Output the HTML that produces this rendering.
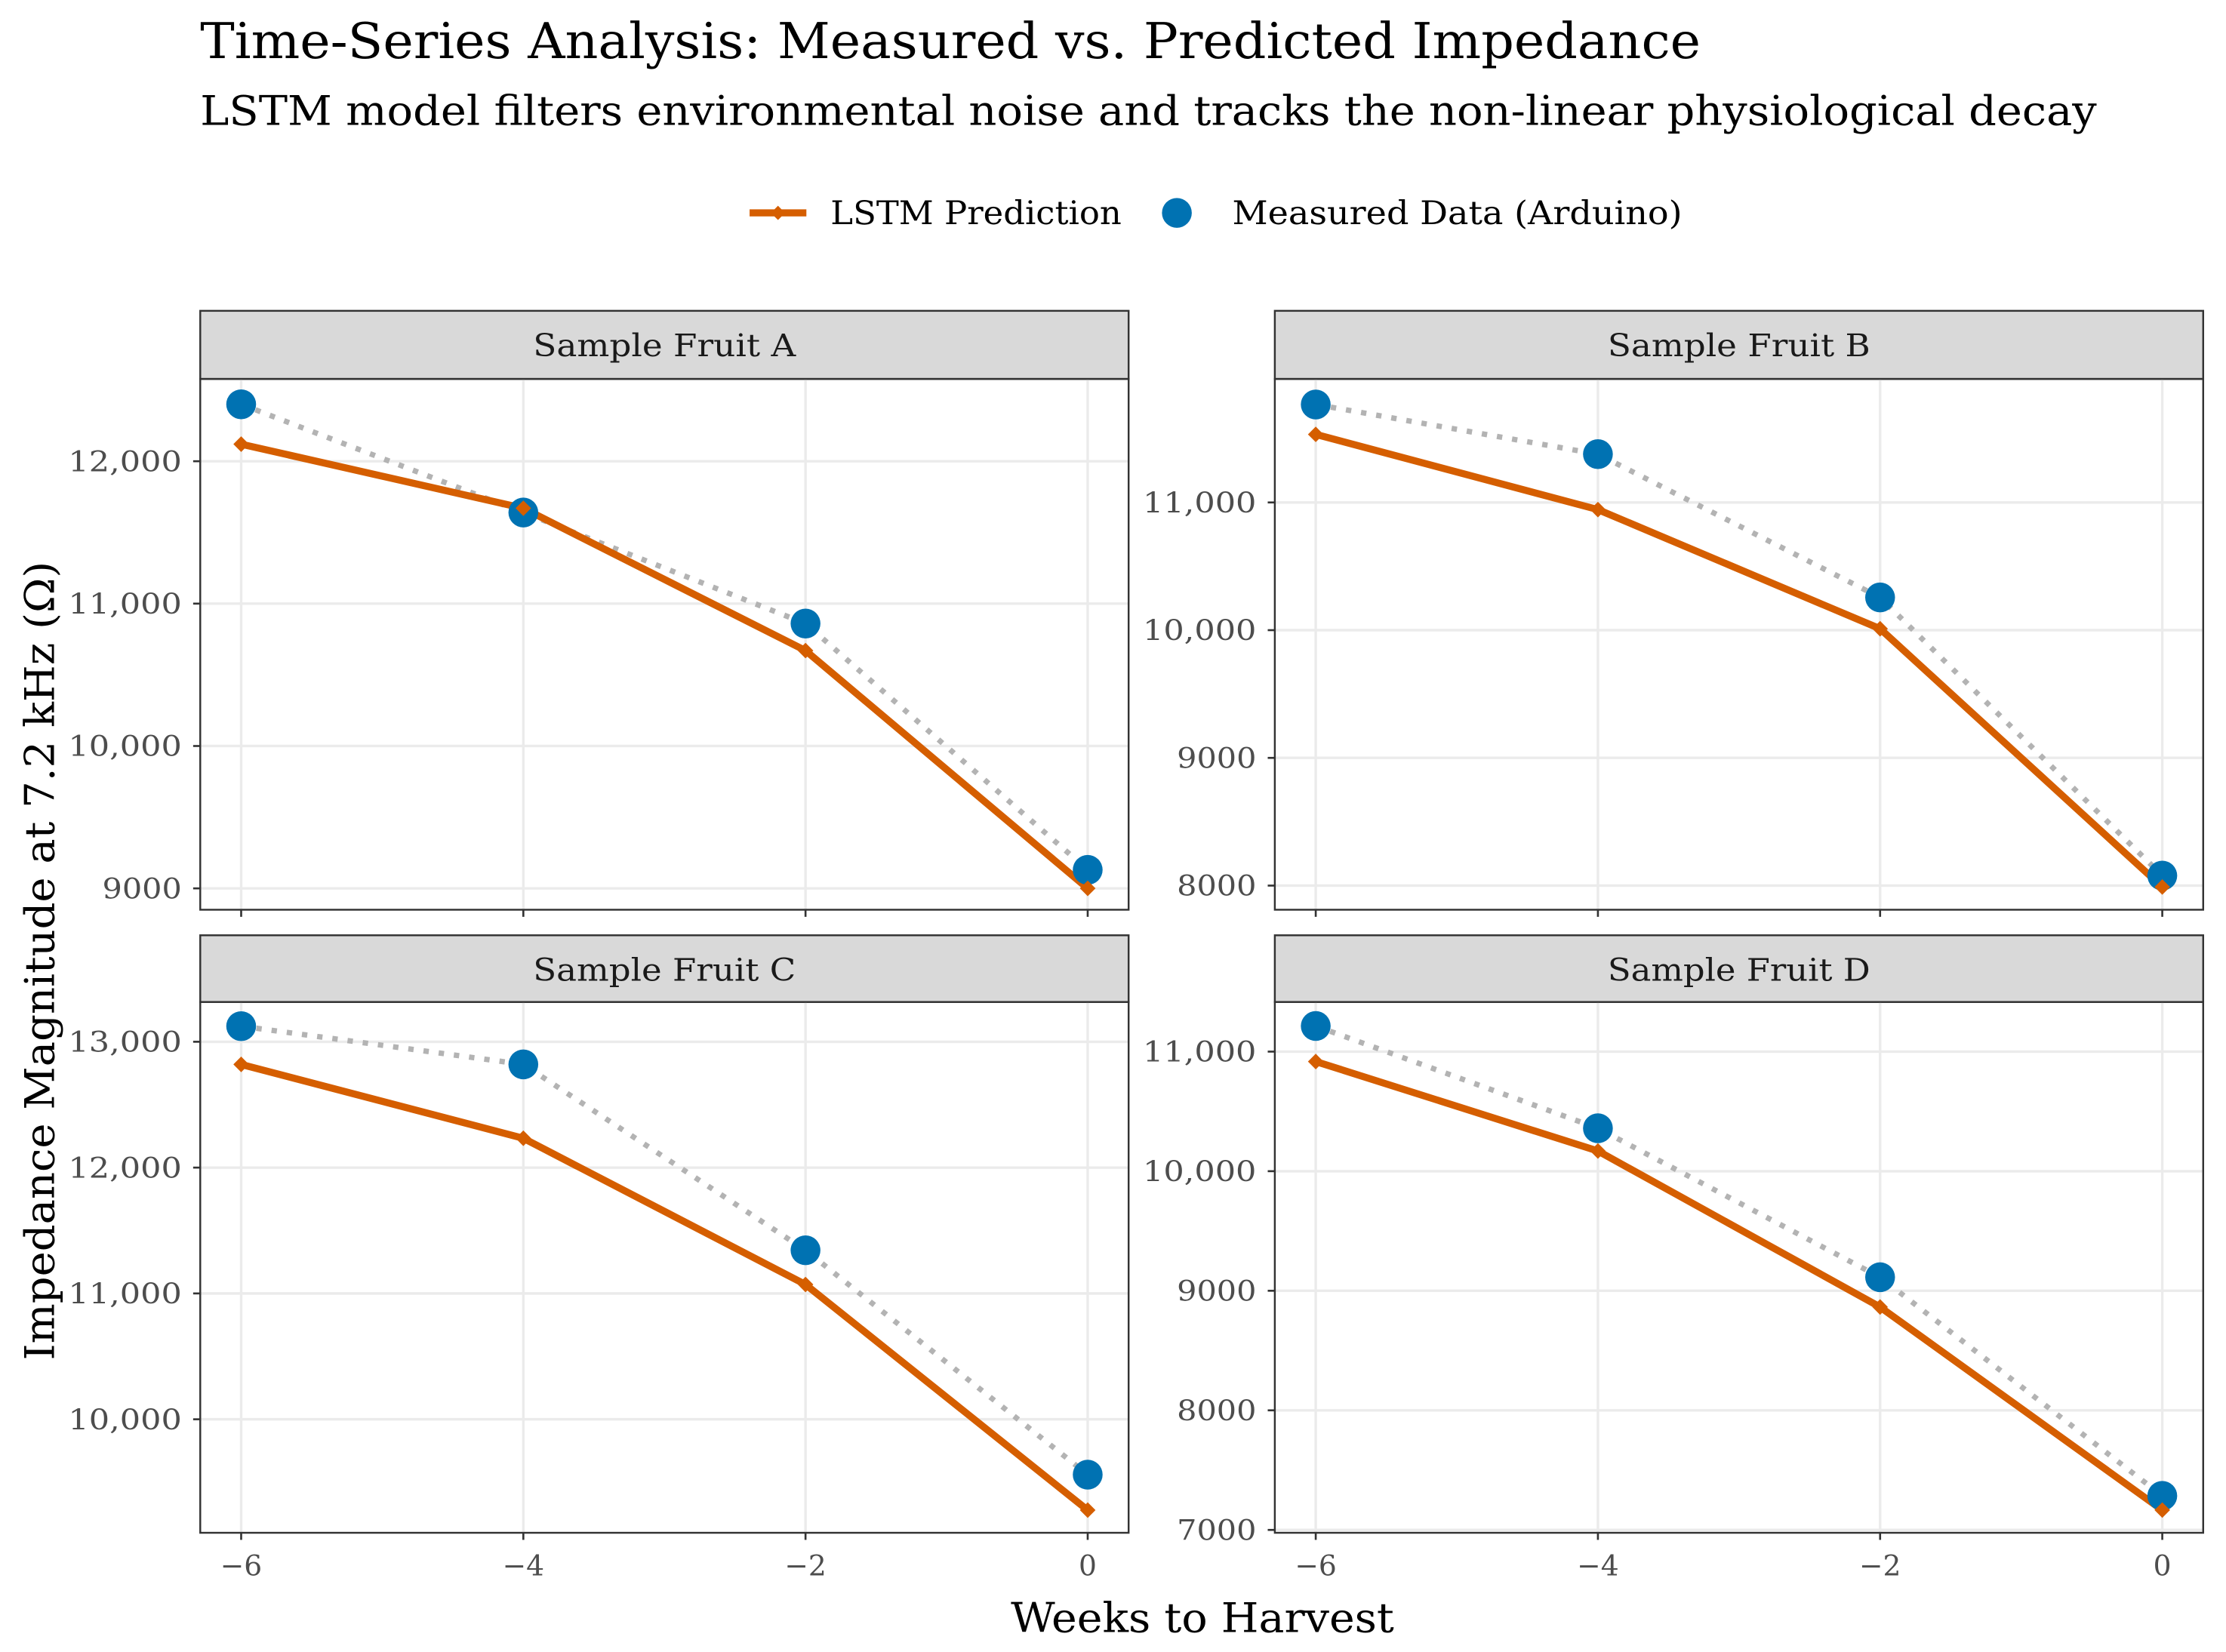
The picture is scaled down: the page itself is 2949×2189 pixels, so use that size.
<!DOCTYPE html>
<html><head><meta charset="utf-8"><style>
html,body{margin:0;padding:0;background:#fff}
svg{display:block}
text{font-family:"DejaVu Serif","Liberation Serif",serif}
</style></head><body>
<svg id="chart" width="2949" height="2189" viewBox="0 0 1568 1164" xmlns="http://www.w3.org/2000/svg">
<text x="141" y="41" font-size="35" fill="#000" textLength="1057" lengthAdjust="spacingAndGlyphs">Time-Series Analysis: Measured vs. Predicted Impedance</text>
<text x="141" y="88" font-size="29" fill="#000" textLength="1336" lengthAdjust="spacingAndGlyphs">LSTM model filters environmental noise and tracks the non-linear physiological decay</text>
<g>
<g>
<line x1="528" y1="150" x2="568" y2="150" stroke="#D55E00" stroke-width="5"/>
<path d="M548 145 L553 150 L548 155 L543 150 Z" fill="#D55E00"/>
<text x="585" y="158" font-size="23" textLength="205" lengthAdjust="spacingAndGlyphs">LSTM Prediction</text></g>
<g>
<circle cx="829" cy="150" r="10.5" fill="#0072B2"/>
<text x="868" y="158" font-size="23" textLength="317" lengthAdjust="spacingAndGlyphs">Measured Data (Arduino)</text></g>
</g>
<text transform="translate(38,677) rotate(-90)" text-anchor="middle" font-size="29" textLength="563" lengthAdjust="spacingAndGlyphs">Impedance Magnitude at 7.2 kHz (Ω)</text>
<text x="847" y="1150" text-anchor="middle" font-size="29" textLength="270" lengthAdjust="spacingAndGlyphs">Weeks to Harvest</text>
<g id="panels"></g>
</svg>
<script>
const weeks = [-6, -4, -2, 0];
const xTicks = [-6, -4, -2, 0];
const panelNames = ["Sample Fruit A", "Sample Fruit B", "Sample Fruit C", "Sample Fruit D"];
const measuredA = [12400, 11640, 10860, 9130];
const predictedA = [12120, 11670, 10670, 9000];
const measuredB = [11767, 11378, 10256, 8078];
const predictedB = [11533, 10944, 10011, 7989];
const measuredC = [13124, 12820, 11343, 9560];
const predictedC = [12820, 12233, 11071, 9278];
const measuredD = [11214, 10359, 9113, 7285];
const predictedD = [10917, 10169, 8864, 7166];
const yTicksA = [9000, 10000, 11000, 12000];
const yTicksB = [8000, 9000, 10000, 11000];
const yTicksC = [10000, 11000, 12000, 13000];
const yTicksD = [7000, 8000, 9000, 10000, 11000];
const yDomA = [8850, 12578];
const yDomB = [7811, 11967];
const yDomC = [9098, 13316];
const yDomD = [6976, 11415];

const NS = "http://www.w3.org/2000/svg";
const root = document.getElementById("panels");
function mk(tag, attrs, parent) {
  const e = document.createElementNS(NS, tag);
  for (const k in attrs) e.setAttribute(k, attrs[k]);
  parent.appendChild(e);
  return e;
}
function fmt(v) { return v >= 10000 ? v.toLocaleString("en-US") : String(v); }

const layout = [
  {x0:141, x1:795, s0:219, y0:267, y1:641, m:measuredA, p:predictedA, t:yTicksA, d:yDomA, key:"a", xl:false},
  {x0:898, x1:1552, s0:219, y0:267, y1:641, m:measuredB, p:predictedB, t:yTicksB, d:yDomB, key:"b", xl:false},
  {x0:141, x1:795, s0:659, y0:706, y1:1080, m:measuredC, p:predictedC, t:yTicksC, d:yDomC, key:"c", xl:true},
  {x0:898, x1:1552, s0:659, y0:706, y1:1080, m:measuredD, p:predictedD, t:yTicksD, d:yDomD, key:"d", xl:true}
];

layout.forEach((L, i) => {
  const g = mk("g", {}, root);
  
  
  const xs = v => L.x0 + (v + 6.29) / 6.58 * (L.x1 - L.x0);
  const ys = v => L.y1 - (v - L.d[0]) / (L.d[1] - L.d[0]) * (L.y1 - L.y0);
  const st = mk("rect", {x:L.x0, y:L.s0, width:L.x1-L.x0, height:L.y0-L.s0, fill:"#D9D9D9", stroke:"#333", "stroke-width":1.3}, g);
  
  
  const stt = mk("text", {x:(L.x0+L.x1)/2, y:L.s0+32, "text-anchor":"middle", "font-size":22, fill:"#1a1a1a", textLength:185, lengthAdjust:"spacingAndGlyphs"}, g);
  stt.textContent = panelNames[i];
  
  
  L.t.forEach(v => {
    const y = ys(v);
    const gl = mk("line", {x1:L.x0, x2:L.x1, y1:y, y2:y, stroke:"#EBEBEB", "stroke-width":1.8}, g);
    
    
    mk("line", {x1:L.x0-5, x2:L.x0, y1:y, y2:y, stroke:"#333", "stroke-width":1.4}, g);
    const s = fmt(v);
    const tl = mk("text", {x:L.x0-13, y:y+7, "text-anchor":"end", "font-size":20, fill:"#4D4D4D", textLength:s.length>4?80:56, lengthAdjust:"spacingAndGlyphs"}, g);
    tl.textContent = s;
    
    
  });
  xTicks.forEach(v => {
    const x = xs(v);
    const gl = mk("line", {x1:x, x2:x, y1:L.y0, y2:L.y1, stroke:"#EBEBEB", "stroke-width":1.8}, g);
    
    
    mk("line", {x1:x, x2:x, y1:L.y1, y2:L.y1+5, stroke:"#333", "stroke-width":1.4}, g);
    if (L.xl) {
      const tl = mk("text", {x:x, y:L.y1+30, "text-anchor":"middle", "font-size":20, fill:"#4D4D4D"}, g);
      tl.textContent = v < 0 ? "\u2212" + Math.abs(v) : String(v);
      
      
    }
  });
  const mpts = weeks.map((w, j) => xs(w) + "," + ys(L.m[j])).join(" ");
  const ml = mk("polyline", {points:mpts, fill:"none", stroke:"#B3B3B3", "stroke-width":3.8, "stroke-dasharray":"3.8 7"}, g);
  
  
  const ppts = weeks.map((w, j) => xs(w) + "," + ys(L.p[j])).join(" ");
  const pl = mk("polyline", {points:ppts, fill:"none", stroke:"#D55E00", "stroke-width":5, "stroke-linejoin":"round"}, g);
  
  
  weeks.forEach((w, j) => {
    const c = mk("circle", {cx:xs(w), cy:ys(L.m[j]), r:10.5, fill:"#0072B2"}, g);
    
    
  });
  weeks.forEach((w, j) => {
    const x = xs(w), y = ys(L.p[j]);
    const d = mk("path", {d:`M${x} ${y-5.5} L${x+5.5} ${y} L${x} ${y+5.5} L${x-5.5} ${y} Z`, fill:"#D55E00"}, g);
    
    
  });
  const b = mk("rect", {x:L.x0, y:L.y0, width:L.x1-L.x0, height:L.y1-L.y0, fill:"none", stroke:"#333", "stroke-width":1.3}, g);
  
  
});
</script>
</body></html>
